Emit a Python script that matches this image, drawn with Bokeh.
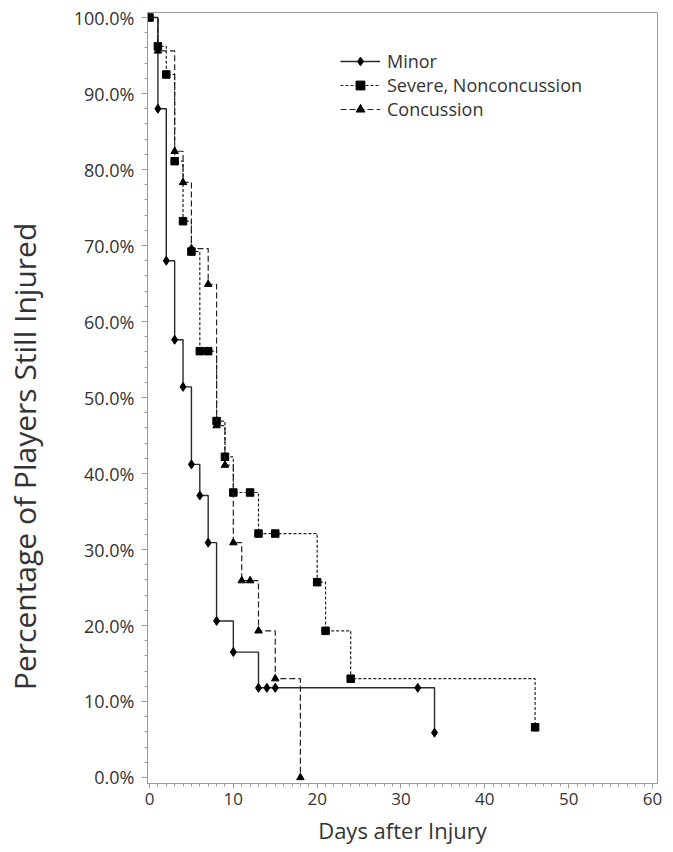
from bokeh.plotting import figure
from bokeh.models import (Range1d, FixedTicker, NumeralTickFormatter, Legend, LegendItem)
from bokeh.embed import file_html
from bokeh.resources import INLINE

# Kaplan-Meier style data
minor_days = [0, 1, 2, 3, 4, 5, 6, 7, 8, 10, 13, 14, 15, 32, 34]
minor_surv = [1.000, 0.880, 0.680, 0.576, 0.514, 0.412, 0.371, 0.309, 0.206, 0.165,
              0.118, 0.118, 0.118, 0.118, 0.059]

severe_days = [0, 1, 2, 3, 4, 5, 6, 7, 8, 9, 10, 12, 13, 15, 20, 21, 24, 46]
severe_surv = [1.000, 0.962, 0.925, 0.811, 0.732, 0.692, 0.561, 0.561, 0.469, 0.422,
               0.375, 0.375, 0.321, 0.321, 0.257, 0.193, 0.130, 0.066]

conc_days = [0, 1, 3, 4, 5, 7, 8, 9, 10, 11, 12, 13, 15, 18]
conc_surv = [1.000, 0.956, 0.824, 0.783, 0.696, 0.649, 0.463, 0.411, 0.309, 0.259,
             0.259, 0.193, 0.130, 0.000]

x_ticks = [0, 10, 20, 30, 40, 50, 60]
y_ticks = [0.0, 0.1, 0.2, 0.3, 0.4, 0.5, 0.6, 0.7, 0.8, 0.9, 1.0]
x_minor = list(range(0, 61))
y_minor = [i / 50 for i in range(0, 51)]

labels = ["Minor", "Severe, Nonconcussion", "Concussion"]
x_title = "Days after Injury"
y_title = "Percentage of Players Still Injured"

FONT = "Open Sans"
TXT = "#333333"
AX = "#9a9a9a"

p = figure(width=673, height=852, output_backend="svg", toolbar_location=None,
           x_range=Range1d(-0.24, 60.6), y_range=Range1d(-0.0079, 1.0066),
           min_border_left=147, min_border_top=12, min_border_right=16, min_border_bottom=69)

p.xgrid.visible = False
p.ygrid.visible = False
p.outline_line_color = AX
p.background_fill_color = "white"

l1 = p.step(minor_days, minor_surv, mode="after", line_color="#2a2a2a", line_width=1.4)
m1 = p.scatter(minor_days[1:], minor_surv[1:], marker="diamond", size=9, color="black")
l2 = p.step(severe_days, severe_surv, mode="after", line_color="#222222", line_width=1.2,
            line_dash="3 2")
m2 = p.scatter(severe_days, severe_surv, marker="square", size=7.5, color="black")
l3 = p.step(conc_days, conc_surv, mode="after", line_color="#222222", line_width=1.2,
            line_dash="6 3")
m3 = p.scatter(conc_days[1:], conc_surv[1:], marker="triangle", size=7.5, color="black")

# axes
p.xaxis.ticker = FixedTicker(ticks=x_ticks, minor_ticks=x_minor)
p.yaxis.ticker = FixedTicker(ticks=y_ticks, minor_ticks=y_minor)
p.yaxis.formatter = NumeralTickFormatter(format="0.0%")

for ax in (p.xaxis[0], p.yaxis[0]):
    ax.axis_line_color = AX
    ax.major_tick_line_color = AX
    ax.minor_tick_line_color = AX
    ax.major_tick_in = 0
    ax.major_tick_out = 6
    ax.minor_tick_in = 0
    ax.minor_tick_out = 3
    ax.major_label_text_font = FONT
    ax.major_label_text_color = TXT
    ax.axis_label_text_font = FONT
    ax.axis_label_text_font_style = "normal"
    ax.axis_label_text_color = TXT

p.xaxis.major_tick_out = 5
p.xaxis.major_label_text_font_size = "17px"
p.yaxis.major_label_text_font_size = "18px"

p.xaxis.axis_label = x_title
p.xaxis.axis_label_text_font_size = "22px"
p.xaxis.major_label_standoff = 4
p.xaxis.axis_label_standoff = 7

# the y title sits below the frame centre in the reference: trailing
# no-break spaces shift the rotated, centred text downwards
p.yaxis.axis_label = y_title + "\u00a0" * 15
p.yaxis.axis_label_text_font_size = "30px"
p.yaxis.major_label_standoff = 7
p.yaxis.axis_label_standoff = 26

legend = Legend(items=[LegendItem(label=labels[0], renderers=[l1, m1]),
                       LegendItem(label=labels[1], renderers=[l2, m2]),
                       LegendItem(label=labels[2], renderers=[l3, m3])],
                location=(193, 662))
legend.background_fill_alpha = 0
legend.border_line_alpha = 0
legend.padding = 0
legend.margin = 0
legend.spacing = 0
legend.glyph_width = 40
legend.glyph_height = 22
legend.label_height = 22
legend.label_standoff = 7
legend.label_text_font = FONT
legend.label_text_font_size = "18px"
legend.label_text_color = TXT
p.add_layout(legend, "center")

open("out.html", "w").write(file_html(p, INLINE))
